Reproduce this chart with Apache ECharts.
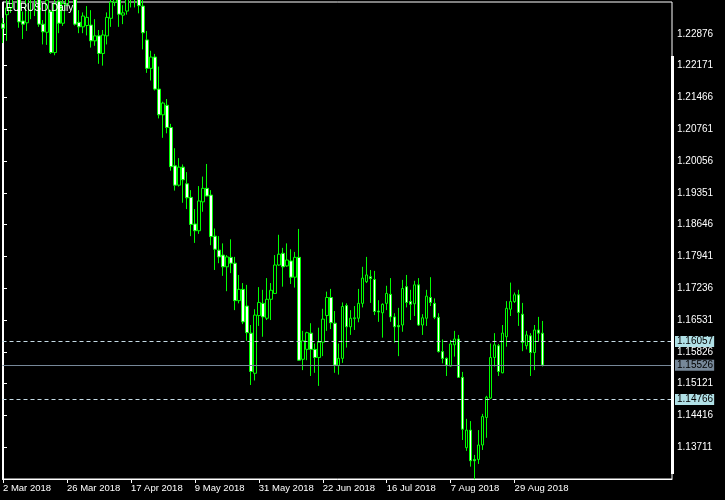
<!DOCTYPE html>
<html><head><meta charset="utf-8">
<script src="https://cdn.jsdelivr.net/npm/echarts/dist/echarts.min.js"></script>
<style>html,body{margin:0;padding:0;background:#000;}#c{width:725px;height:500px;}</style>
</head><body><div id="c"></div>
<script>
const openP = [
1.2310,1.2330,1.2345,1.2405,1.2410,1.2316,1.2312,1.2395,1.2375,1.2385,
1.2309,1.2291,1.2337,1.2246,1.2360,1.2311,1.2351,1.2446,1.2405,1.2313,
1.2303,1.2306,1.2307,1.2272,1.2283,1.2244,1.2283,1.2322,1.2358,1.2370,
1.2329,1.2338,1.2380,1.2372,1.2376,1.2349,1.2274,1.2211,1.2236,1.2165,
1.2108,1.2129,1.2080,1.1995,1.1952,1.1992,1.1955,1.1925,1.1866,1.1851,
1.1915,1.1945,1.1930,1.1839,1.1808,1.1797,1.1771,1.1792,1.1779,1.1696,
1.1721,1.1684,1.1624,1.1535,1.1663,1.1690,1.1657,1.1699,1.1712,1.1775,
1.1801,1.1773,1.1784,1.1748,1.1792,1.1566,1.1588,1.1624,1.1588,1.1570,
1.1604,1.1663,1.1703,1.1646,1.1552,1.1568,1.1685,1.1638,1.1656,1.1657,
1.1690,1.1738,1.1749,1.1743,1.1673,1.1669,1.1690,1.1710,1.1660,1.1641,
1.1642,1.1727,1.1694,1.1689,1.1731,1.1642,1.1657,1.1703,1.1690,1.1659,
1.1583,1.1568,1.1551,1.1598,1.1611,1.1526,1.1370,1.1409,1.1344,1.1344,
1.1376,1.1437,1.1480,1.1570,1.1596,1.1536,1.1616,1.1677,1.1694,1.1709,
1.1666,1.1596,1.1618,1.1581,1.1631,1.1624];
const closeP = [
1.2300,1.2345,1.2405,1.2412,1.2314,1.2309,1.2395,1.2375,1.2385,1.2309,
1.2292,1.2362,1.2246,1.2354,1.2311,1.2355,1.2446,1.2405,1.2309,1.2303,
1.2327,1.2324,1.2272,1.2283,1.2244,1.2285,1.2324,1.2358,1.2370,1.2331,
1.2334,1.2380,1.2372,1.2376,1.2350,1.2290,1.2211,1.2236,1.2165,1.2108,
1.2134,1.2080,1.1993,1.1952,1.1992,1.1964,1.1924,1.1865,1.1851,1.1917,
1.1945,1.1928,1.1838,1.1810,1.1793,1.1771,1.1793,1.1779,1.1696,1.1721,
1.1649,1.1625,1.1539,1.1664,1.1692,1.1660,1.1699,1.1719,1.1775,1.1799,
1.1771,1.1786,1.1748,1.1792,1.1564,1.1607,1.1625,1.1588,1.1570,1.1604,
1.1655,1.1703,1.1647,1.1553,1.1568,1.1683,1.1638,1.1657,1.1658,1.1690,
1.1746,1.1753,1.1745,1.1672,1.1671,1.1688,1.1712,1.1660,1.1638,1.1638,
1.1723,1.1692,1.1688,1.1731,1.1642,1.1658,1.1706,1.1692,1.1659,1.1583,
1.1568,1.1553,1.1600,1.1611,1.1526,1.1411,1.1409,1.1341,1.1341,1.1376,
1.1439,1.1482,1.1570,1.1598,1.1539,1.1624,1.1679,1.1694,1.1709,1.1670,
1.1603,1.1620,1.1581,1.1631,1.1624,1.1553];
const lowP = [
1.2267,1.2272,1.2334,1.2380,1.2301,1.2276,1.2294,1.2320,1.2327,1.2303,
1.2264,1.2263,1.2243,1.2240,1.2289,1.2305,1.2349,1.2381,1.2306,1.2289,
1.2289,1.2284,1.2257,1.2261,1.2221,1.2217,1.2264,1.2303,1.2349,1.2303,
1.2309,1.2330,1.2346,1.2346,1.2333,1.2253,1.2201,1.2184,1.2162,1.2100,
1.2057,1.2067,1.1984,1.1940,1.1949,1.1913,1.1899,1.1839,1.1824,1.1844,
1.1893,1.1927,1.1819,1.1764,1.1779,1.1751,1.1717,1.1757,1.1675,1.1690,
1.1644,1.1607,1.1509,1.1519,1.1640,1.1616,1.1653,1.1653,1.1711,1.1773,
1.1727,1.1771,1.1733,1.1725,1.1563,1.1542,1.1564,1.1529,1.1536,1.1507,
1.1573,1.1629,1.1633,1.1536,1.1532,1.1558,1.1592,1.1620,1.1631,1.1648,
1.1681,1.1735,1.1691,1.1664,1.1649,1.1614,1.1675,1.1649,1.1603,1.1573,
1.1627,1.1681,1.1653,1.1662,1.1640,1.1620,1.1640,1.1684,1.1655,1.1581,
1.1557,1.1529,1.1550,1.1572,1.1525,1.1387,1.1363,1.1328,1.1300,1.1334,
1.1365,1.1392,1.1478,1.1550,1.1529,1.1535,1.1594,1.1662,1.1691,1.1640,
1.1584,1.1588,1.1529,1.1542,1.1605,1.1550];
const highP = [
1.2323,1.2365,1.2420,1.2445,1.2446,1.2337,1.2405,1.2410,1.2405,1.2400,
1.2318,1.2380,1.2340,1.2365,1.2390,1.2380,1.2455,1.2475,1.2410,1.2340,
1.2335,1.2349,1.2340,1.2320,1.2296,1.2296,1.2335,1.2375,1.2396,1.2385,
1.2351,1.2395,1.2397,1.2414,1.2396,1.2370,1.2294,1.2250,1.2243,1.2215,
1.2137,1.2143,1.2088,1.2034,1.2012,1.1998,1.1981,1.1941,1.1899,1.1950,
1.1971,1.1999,1.1941,1.1856,1.1839,1.1823,1.1797,1.1832,1.1793,1.1753,
1.1735,1.1731,1.1642,1.1677,1.1726,1.1720,1.1746,1.1735,1.1797,1.1842,
1.1813,1.1823,1.1810,1.1804,1.1855,1.1629,1.1627,1.1646,1.1601,1.1636,
1.1678,1.1716,1.1722,1.1673,1.1601,1.1692,1.1690,1.1675,1.1684,1.1722,
1.1771,1.1793,1.1764,1.1762,1.1697,1.1690,1.1729,1.1746,1.1668,1.1680,
1.1742,1.1753,1.1720,1.1740,1.1746,1.1666,1.1720,1.1748,1.1701,1.1668,
1.1610,1.1570,1.1609,1.1629,1.1620,1.1538,1.1434,1.1429,1.1354,1.1409,
1.1445,1.1485,1.1601,1.1624,1.1600,1.1642,1.1695,1.1736,1.1714,1.1720,
1.1691,1.1629,1.1624,1.1642,1.1660,1.1651];

const dateLabels = ['2 Mar 2018','26 Mar 2018','17 Apr 2018','9 May 2018','31 May 2018','22 Jun 2018','16 Jul 2018','7 Aug 2018','29 Aug 2018'];
const dateLabelBars = [0,16,32,48,64,80,96,112,128];
const priceTicks = [1.13711,1.14416,1.15121,1.15826,1.16531,1.17236,1.17941,1.18646,1.19351,1.20056,1.20761,1.21466,1.22171,1.22876];
const dashedLevels = [1.16057, 1.14766];
const bidPrice = 1.15526;
const symbolTitle = 'EURUSD,Daily';

const FONT = 'Liberation Sans';
const candles = openP.map((o, i) => [i, o, closeP[i], lowP[i], highP[i]]);

const markData = dashedLevels.map(v => ({
  yAxis: v,
  lineStyle: {type: [4, 3], color: '#c6dce6', width: 1},
  label: {backgroundColor: '#b0e0e6', color: '#000'}
}));
markData.push({
  yAxis: bidPrice,
  lineStyle: {type: 'solid', color: '#778899', width: 1},
  label: {backgroundColor: '#778899', color: '#000'}
});

const chart = echarts.init(document.getElementById('c'), null, {renderer: 'canvas'});
chart.setOption({
  animation: false,
  backgroundColor: '#000',
  title: {
    text: symbolTitle, left: 6, top: 3, padding: 0,
    textStyle: {color: '#fff', fontSize: 10, fontWeight: 'normal', fontFamily: FONT}
  },
  grid: {left: 2, top: 2, right: 53, bottom: 21, show: true, borderColor: '#fff', borderWidth: 1, backgroundColor: 'transparent'},
  xAxis: {
    type: 'value', min: -0.125, max: 167.375,
    axisLine: {show: true, lineStyle: {color: '#fff', width: 1}},
    axisTick: {show: true, customValues: dateLabelBars, length: 4, lineStyle: {color: '#fff'}},
    axisLabel: {
      customValues: dateLabelBars, color: '#fff', fontSize: 9.5, fontFamily: FONT,
      align: 'left', margin: 4,
      formatter: v => dateLabels[dateLabelBars.indexOf(Math.round(v))] || ''
    },
    splitLine: {show: false}
  },
  yAxis: {
    type: 'value', position: 'right', min: 1.13006, max: 1.23581, scale: true,
    axisLine: {show: true, lineStyle: {color: '#fff', width: 1}},
    axisTick: {show: true, customValues: priceTicks, length: 4, lineStyle: {color: '#fff'}},
    axisLabel: {customValues: priceTicks, color: '#fff', fontSize: 10, fontFamily: FONT, margin: 5,
      formatter: v => Number(v).toFixed(5)},
    splitLine: {show: false}
  },
  graphic: [{type: 'rect', shape: {x: 671, y: 56, width: 3, height: 418}, style: {fill: '#fff'}, z: 10}],
  series: [{
    type: 'candlestick',
    data: candles,
    barWidth: 3,
    clip: true,
    itemStyle: {color: '#000', color0: '#fff', borderColor: '#00ff00', borderColor0: '#00ff00', borderColorDoji: '#00ff00', borderWidth: 1},
    markLine: {
      symbol: 'none', silent: true, animation: false, precision: 5,
      label: {show: true, position: 'end', distance: 3, padding: [1, 1, 0, 2], fontSize: 10, fontFamily: FONT,
        formatter: p => Number(p.value).toFixed(5)},
      data: markData
    }
  }]
});
</script></body></html>
